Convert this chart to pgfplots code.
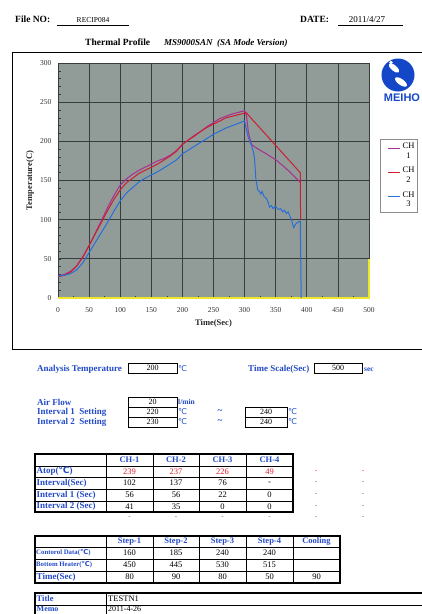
\documentclass[border=0pt]{standalone}
\usepackage{fontspec}
\setmainfont{Liberation Serif}
\newfontfamily\symf{DejaVu Sans}
\newfontfamily\logofont{Liberation Sans}
\usepackage{pgfplots}
\pgfplotsset{compat=1.18}
\definecolor{plotbg}{RGB}{145,156,153}
\definecolor{gridc}{RGB}{55,60,60}
\definecolor{ch1}{RGB}{170,45,145}
\definecolor{ch2}{RGB}{205,30,50}
\definecolor{ch3}{RGB}{40,110,215}
\definecolor{ch4}{RGB}{240,230,40}
\definecolor{lblue}{RGB}{35,75,200}
\definecolor{vred}{RGB}{220,30,50}
\definecolor{logob}{RGB}{20,70,200}
\newcommand\degC{{\symf\char"2103}}
\newcommand\fs[1]{\fontsize{#1}{#1}\selectfont}
\begin{document}
\begin{tikzpicture}
\useasboundingbox (0pt,0pt) rectangle (422pt,-614pt);
\fill[white] (0pt,0pt) rectangle (422pt,-614pt);
\begin{axis}[
 at={(58pt,-298pt)}, anchor=south west,
 scale only axis, width=311pt, height=235pt,
 xmin=0, xmax=500, ymin=0, ymax=300, clip=false,
 xtick={0,50,...,500}, ytick={0,50,...,300},
 minor x tick num=1, minor y tick num=4,
 tick align=inside, xtick pos=bottom, ytick pos=left,
 major tick length=3pt, minor tick length=2.5pt,
 tick style={gridc, line width=0.6pt},
 grid=major, major grid style={gridc, line width=0.7pt},
 axis line style={gridc, line width=0.8pt},
 axis background/.style={fill=plotbg},
 ticklabel style={font=\fs{7.5}, text=black!80},
 /pgf/number format/assume math mode=true,
 xticklabel style={yshift=-5.5pt},
 yticklabel style={xshift=-3pt},
 xlabel={Time(Sec)}, ylabel={Temperature(C)},
 label style={font=\fs{8.5}\bfseries, text=black!85},
 xlabel style={at={(axis description cs:0.5,-0.108)}, anchor=center},
 ylabel style={at={(axis description cs:-0.09,0.5)}, anchor=center},
 legend style={at={(rel axis cs:1.035,0.6766)}, anchor=north west, draw=black!45, fill=white,
   font=\fontsize{8.5}{9.5}\selectfont, inner xsep=1pt, inner ysep=2pt, row sep=3.5pt,
   cells={align=center}, /tikz/every even column/.append style={column sep=0pt}},
 legend image code/.code={\path[draw=none,fill=none] (0pt,0pt) rectangle (19pt,4pt); \draw[#1] (7pt,2.8pt) -- (19pt,2.8pt);},
]
\addplot[ch4, line width=1.2pt, forget plot] coordinates {(0,0)(500,0)(500,50)};
\addplot[ch1, line width=1pt] coordinates {
(0,28)(10,30)(20,34)(30,41)(40,53)(50,67)(60,83)(70,99)(80,116)(90,131)(100,144)
(110,152)(120,158)(130,163)(140,167)(150,171)(160,175)(170,178)(180,182)(190,188)
(200,196)(210,202)(220,208)(230,213)(240,219)(250,224)(260,229)(270,232)(280,235)
(290,237)(300,239)(303,233)(306,212)(311,196)(320,191)(335,184)(351,176)(370,163)(389,148)};
\addlegendentry{CH\\1}
\addplot[ch2, line width=1pt] coordinates {
(0,27)(10,29)(20,33)(30,41)(40,52)(50,67)(60,82)(70,97)(80,112)(90,126)(100,138)
(110,147)(120,153)(130,159)(140,163)(150,167)(160,171)(170,176)(180,181)(190,187)
(200,196)(210,202)(220,207)(230,213)(240,218)(250,222)(260,226)(270,230)(280,232)
(290,234)(300,236)(302,237)(389.5,160)(390,100)};
\addlegendentry{CH\\2}
\addplot[ch3, line width=1pt] coordinates {
(0,28)(10,29)(20,31)(30,36)(40,45)(50,58)(60,71)(70,84)(80,97)(90,111)(100,124)
(110,134)(120,141)(130,148)(140,153)(150,157)(160,161)(170,166)(180,171)(190,176)
(200,184)(210,189)(220,194)(230,199)(240,204)(250,209)(260,213)(270,217)(280,220)
(290,223)(300,226)(302,218)(305,208)(308,200)(311,195)(314,187)(315,183)(316,178)
(318,153)(321,138)(324,136)(326,133)(328,136)(331,130)(335,127)(338,122)(340,116)
(343,118)(346,114)(349,117)(352,115)(355,113)(358,114)(361,110)(364,112)(367,108)
(370,110)(373,104)(375,101)(377,95)(379,90)(381,93)(383,95)(386,97)(389.5,98)(391,0)};
\addlegendentry{CH\\3}
\end{axis}
\begin{scope}[x=1pt,y=-1pt]
% header
\node[anchor=base west, font=\fs{9.5}\bfseries, inner sep=0] at (15,22) {File NO:};
\node[anchor=base, font=\fs{7.5}, inner sep=0] at (93,22) {RECIP084};
\draw[line width=0.9pt] (57,25.5) -- (129,25.5);
\node[anchor=base west, font=\fs{9.5}\bfseries, inner sep=0] at (300,22) {DATE:};
\node[anchor=base, font=\fs{9}, inner sep=0] at (367,22) {2011/4/27};
\draw[line width=0.9pt] (338,25.5) -- (403,25.5);
\node[anchor=base west, font=\fs{9.5}\bfseries, inner sep=0] at (85,45) {Thermal Profile};
\node[anchor=base west, font=\fs{9}\bfseries\itshape, inner sep=0] at (164,45) {MS9000SAN\ \ (SA Mode Version)};
% frame
\draw[line width=0.8pt] (12,52) rectangle (440,349);
% logo
\fill[logob] (398,75) circle (16.5);
\fill[white, rotate around={-40:(394,68)}] (394,68) ellipse (6.5 and 2.8);
\fill[white, rotate around={-35:(401,82)}] (401,82) ellipse (7 and 3);
\fill[white] (391,62.5) circle (1.8);
\node[anchor=base, font=\logofont\fs{11}\bfseries, text=logob, inner sep=0] at (402,101) {MEIHO};
% settings
\begin{scope}[every node/.style={inner sep=0}]
\node[anchor=base west, font=\fs{9}\bfseries, text=lblue] at (37,371) {Analysis Temperature};
\draw[line width=0.8pt, fill=white] (128,363) rectangle (177,373);
\node[font=\fs{8}] at (152.5,368) {200};
\node[anchor=base west, font=\fs{8}, text=lblue] at (178,371) {\degC};
\node[anchor=base west, font=\fs{9}\bfseries, text=lblue] at (248,371) {Time Scale(Sec)};
\draw[line width=0.8pt, fill=white] (314,363) rectangle (362,373);
\node[font=\fs{8}] at (338,368) {500};
\node[anchor=base west, font=\fs{7.5}\bfseries, text=lblue] at (364,371) {sec};
\node[anchor=base west, font=\fs{9}\bfseries, text=lblue] at (37,405) {Air Flow};
\node[anchor=base west, font=\fs{9}\bfseries, text=lblue] at (37,414.5) {Interval 1\ \ Setting};
\node[anchor=base west, font=\fs{9}\bfseries, text=lblue] at (37,424) {Interval 2\ \ Setting};
\draw[line width=0.8pt] (128,397) rectangle (177,427);
\draw[line width=0.8pt] (128,407) -- (177,407) (128,417) -- (177,417);
\node[font=\fs{8}] at (152.5,402) {20};
\node[font=\fs{8}] at (152.5,412) {220};
\node[font=\fs{8}] at (152.5,422) {230};
\node[anchor=base west, font=\fs{7.5}\bfseries, text=lblue] at (178,404) {l/min};
\node[anchor=base west, font=\fs{8}, text=lblue] at (178,414) {\degC};
\node[anchor=base west, font=\fs{8}, text=lblue] at (178,424) {\degC};
\node[font=\fs{9}\bfseries, text=lblue] at (220,412) {\textasciitilde};
\node[font=\fs{9}\bfseries, text=lblue] at (220,422) {\textasciitilde};
\draw[line width=0.8pt] (245,407) rectangle (287,427);
\draw[line width=0.8pt] (245,417) -- (287,417);
\node[font=\fs{8}] at (266,412) {240};
\node[font=\fs{8}] at (266,422) {240};
\node[anchor=base west, font=\fs{8}, text=lblue] at (288,414) {\degC};
\node[anchor=base west, font=\fs{8}, text=lblue] at (288,424) {\degC};
% table 1
\draw[line width=0.7pt] (35,466) -- (293,466) (35,477) -- (293,477) (35,489) -- (293,489) (35,501) -- (293,501);
\draw[line width=0.7pt] (106,454) -- (106,512) (153,454) -- (153,512) (199,454) -- (199,512) (246,454) -- (246,512);
\draw[line width=1.1pt] (35,454) rectangle (293,512);
\foreach \x/\t in {129.5/CH-1,176/CH-2,222.5/CH-3,269.5/CH-4}
  \node[font=\fs{8.5}\bfseries, text=lblue] at (\x,460) {\t};
\node[anchor=west, font=\fs{9}\bfseries, text=lblue] at (36.5,471.5) {Atop(\degC)};
\node[anchor=west, font=\fs{9}\bfseries, text=lblue] at (36.5,483) {Interval(Sec)};
\node[anchor=west, font=\fs{9}\bfseries, text=lblue] at (36.5,495) {Interval 1 (Sec)};
\node[anchor=west, font=\fs{9}\bfseries, text=lblue] at (36.5,506.5) {Interval 2 (Sec)};
\foreach \x/\t in {129.5/239,176/237,222.5/226,269.5/49}
  \node[font=\fs{8.5}, text=vred] at (\x,471.5) {\t};
\foreach \x/\t in {129.5/102,176/137,222.5/76,269.5/-}
  \node[font=\fs{8.5}] at (\x,483) {\t};
\foreach \x/\t in {129.5/56,176/56,222.5/22,269.5/0}
  \node[font=\fs{8.5}] at (\x,495) {\t};
\foreach \x/\t in {129.5/41,176/35,222.5/0,269.5/0}
  \node[font=\fs{8.5}] at (\x,506.5) {\t};
\foreach \x in {316,363} {
  \node[font=\fs{7}, text=vred] at (\x,471.5) {-};
  \node[font=\fs{7}, text=black!60] at (\x,483) {-};
  \node[font=\fs{7}, text=black!60] at (\x,495) {-};
  \node[font=\fs{7}, text=black!60] at (\x,506.5) {-};
}
\foreach \x in {129.5,176,222.5,269.5,316,363}
  \node[font=\fs{7}, text=black!60] at (\x,518) {-};
% table 2
\draw[line width=0.7pt] (35,547) -- (340,547) (35,559) -- (340,559) (35,571) -- (340,571);
\draw[line width=0.7pt] (106,536) -- (106,583) (153,536) -- (153,583) (199,536) -- (199,583) (246,536) -- (246,583) (293,536) -- (293,583);
\draw[line width=1.1pt] (35,536) rectangle (340,583);
\foreach \x/\t in {129.5/Step-1,176/Step-2,222.5/Step-3,269.5/Step-4,316.5/Cooling}
  \node[font=\fs{8.5}\bfseries, text=lblue] at (\x,541.5) {\t};
\node[anchor=west, font=\fs{6.8}\bfseries, text=lblue] at (36,553) {Contorol Data(\degC)};
\node[anchor=west, font=\fs{6.8}\bfseries, text=lblue] at (36,565) {Bottom Heater(\degC)};
\node[anchor=west, font=\fs{9}\bfseries, text=lblue] at (36.5,577) {Time(Sec)};
\foreach \x/\t in {129.5/160,176/185,222.5/240,269.5/240}
  \node[font=\fs{8.5}] at (\x,553) {\t};
\foreach \x/\t in {129.5/450,176/445,222.5/530,269.5/515}
  \node[font=\fs{8.5}] at (\x,565) {\t};
\foreach \x/\t in {129.5/80,176/90,222.5/80,269.5/50,316.5/90}
  \node[font=\fs{8.5}] at (\x,577) {\t};
% table 3
\draw[line width=0.7pt] (35,605) -- (440,605) (106,593) -- (106,620);
\draw[line width=1.1pt] (35,593) rectangle (440,620);
\node[anchor=west, font=\fs{8.5}\bfseries, text=lblue] at (36.5,599) {Title};
\node[anchor=west, font=\fs{8}\bfseries, text=lblue] at (36.5,609.3) {Memo};
\node[anchor=west, font=\fs{8.5}] at (108,599) {TESTN1};
\node[anchor=west, font=\fs{8}] at (108,609.3) {2011-4-26};
\end{scope}
\end{scope}
\end{tikzpicture}
\end{document}
